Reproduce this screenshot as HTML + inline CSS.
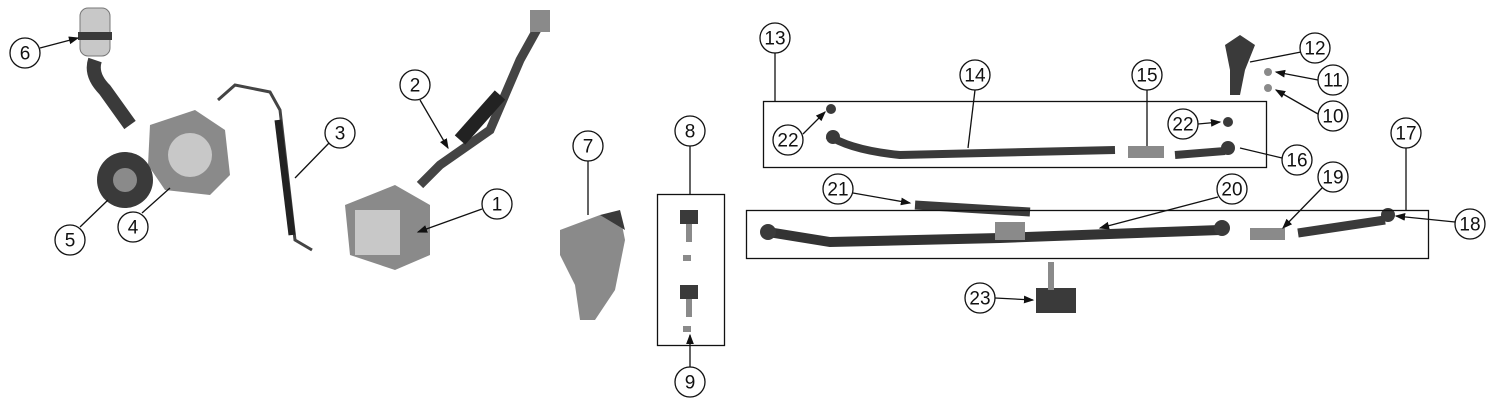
<!DOCTYPE html>
<html><head><meta charset="utf-8"><style>
html,body{margin:0;padding:0;background:#fff;}
svg{display:block;}
text{font-family:"Liberation Sans",sans-serif;font-size:19px;fill:#111;text-anchor:middle;dominant-baseline:central;}
.c{fill:#fff;stroke:#111;stroke-width:1.3;}
.l{stroke:#111;stroke-width:1.3;fill:none;}
.p{fill:#3a3a3a;}
.g{fill:#8a8a8a;}
.lg{fill:#c8c8c8;}
</style></head><body>
<svg width="1500" height="410" viewBox="0 0 1500 410">
<defs><marker id="a" markerWidth="8" markerHeight="8" refX="7" refY="4" orient="auto"><path d="M0,1 L8,4 L0,7z" fill="#111"/></marker></defs>

<!-- parts -->
<!-- reservoir -->
<rect x="80" y="8" width="30" height="48" rx="8" class="lg" stroke="#777"/>
<rect x="78" y="32" width="34" height="8" class="p"/>
<path d="M95,60 Q90,75 105,90 L130,125" stroke="#3a3a3a" stroke-width="14" fill="none"/>
<!-- pump -->
<path d="M150,125 L195,110 L225,130 L230,175 L210,195 L165,190 L148,165z" class="g"/>
<circle cx="190" cy="155" r="22" class="lg"/>
<circle cx="125" cy="180" r="28" class="p"/>
<circle cx="125" cy="180" r="12" class="g"/>
<!-- hose 3 -->
<path d="M218,100 L235,85 L270,92 L280,110 L295,240 L312,250" stroke="#444" stroke-width="3" fill="none"/>
<path d="M278,120 L292,235" stroke="#222" stroke-width="7"/>
<!-- steering shaft -->
<path d="M545,15 L520,60 L490,130 L440,165 L420,185" stroke="#444" stroke-width="9" fill="none"/>
<path d="M500,95 L460,140" stroke="#222" stroke-width="14"/>
<rect x="530" y="10" width="20" height="22" class="g"/>
<!-- gear box -->
<path d="M345,205 L395,185 L430,205 L430,255 L395,270 L350,255z" class="g"/>
<rect x="355" y="210" width="45" height="45" class="lg"/>
<!-- knuckle 7 -->
<path d="M560,230 L600,215 L620,215 L625,240 L615,290 L595,320 L580,320 L575,285 L560,255z" class="g"/>
<path d="M600,215 L620,210 L625,230" class="p"/>
<!-- ball joints -->
<rect x="680" y="210" width="18" height="14" class="p"/><rect x="686" y="224" width="6" height="18" class="g"/>
<rect x="680" y="285" width="18" height="14" class="p"/><rect x="686" y="299" width="6" height="18" class="g"/>
<rect x="683" y="255" width="8" height="6" class="g"/><rect x="683" y="326" width="8" height="6" class="g"/>
<!-- pitman arm 12 -->
<path d="M1225,45 L1240,35 L1255,45 L1245,70 L1240,95 L1230,95 L1230,70z" class="p"/>
<circle cx="1268" cy="72" r="4" class="g"/><circle cx="1268" cy="88" r="4" class="g"/>
<!-- tie rod 14 -->
<circle cx="831" cy="109" r="5" class="p"/>
<path d="M828,135 Q850,150 900,155 L1115,150" stroke="#3a3a3a" stroke-width="8" fill="none"/>
<circle cx="833" cy="137" r="7" class="p"/>
<rect x="1128" y="146" width="36" height="12" class="g"/>
<path d="M1175,155 L1225,151" stroke="#3a3a3a" stroke-width="8"/>
<circle cx="1228" cy="122" r="5" class="p"/>
<circle cx="1228" cy="148" r="7" class="p"/>
<!-- drag link 21 -->
<path d="M915,205 L1030,212" stroke="#3a3a3a" stroke-width="9"/>
<!-- 20 -->
<path d="M768,232 L830,242 L1000,238 L1220,230" stroke="#333" stroke-width="10" fill="none"/>
<circle cx="768" cy="232" r="8" class="p"/><circle cx="1222" cy="228" r="8" class="p"/>
<rect x="995" y="222" width="30" height="18" class="g"/>
<rect x="1250" y="228" width="35" height="12" class="g"/>
<path d="M1298,233 L1385,220" stroke="#3a3a3a" stroke-width="9"/>
<circle cx="1388" cy="215" r="7" class="p"/>
<!-- 23 -->
<rect x="1036" y="288" width="40" height="25" class="p"/><rect x="1048" y="262" width="6" height="28" class="g"/>

<!-- boxes -->
<rect x="763.5" y="101.5" width="503" height="66" class="l"/>
<rect x="746.5" y="210.5" width="682" height="48" class="l"/>
<rect x="657.5" y="194.5" width="67" height="151" class="l"/>

<!-- leaders -->
<line x1="40" y1="48" x2="78" y2="38" class="l" marker-end="url(#a)"/>
<line x1="420" y1="100" x2="448" y2="148" class="l" marker-end="url(#a)"/>
<line x1="330" y1="142" x2="295" y2="178" class="l"/>
<line x1="482" y1="209" x2="418" y2="232" class="l" marker-end="url(#a)"/>
<line x1="80" y1="227" x2="108" y2="200" class="l"/>
<line x1="142" y1="213" x2="170" y2="188" class="l"/>
<line x1="588" y1="161" x2="588" y2="215" class="l"/>
<line x1="690" y1="146" x2="690" y2="194" class="l"/>
<line x1="690" y1="367" x2="690" y2="335" class="l" marker-end="url(#a)"/>
<line x1="775" y1="53" x2="775" y2="101" class="l"/>
<line x1="975" y1="90" x2="968" y2="148" class="l"/>
<line x1="1147" y1="90" x2="1147" y2="146" class="l"/>
<line x1="1301" y1="52" x2="1250" y2="62" class="l"/>
<line x1="1318" y1="80" x2="1276" y2="72" class="l" marker-end="url(#a)"/>
<line x1="1318" y1="114" x2="1276" y2="90" class="l" marker-end="url(#a)"/>
<line x1="803" y1="134" x2="825" y2="112" class="l" marker-end="url(#a)"/>
<line x1="1198" y1="124" x2="1220" y2="122" class="l" marker-end="url(#a)"/>
<line x1="1282" y1="158" x2="1240" y2="148" class="l"/>
<line x1="1406" y1="148" x2="1406" y2="210" class="l"/>
<line x1="853" y1="193" x2="910" y2="203" class="l" marker-end="url(#a)"/>
<line x1="1218" y1="197" x2="1100" y2="228" class="l" marker-end="url(#a)"/>
<line x1="1322" y1="188" x2="1283" y2="228" class="l" marker-end="url(#a)"/>
<line x1="1455" y1="222" x2="1396" y2="216" class="l" marker-end="url(#a)"/>
<line x1="995" y1="298" x2="1033" y2="300" class="l" marker-end="url(#a)"/>

<!-- callouts -->
<g>
<circle cx="25" cy="53" r="15" class="c"/><text x="25" y="54">6</text>
<circle cx="415" cy="85" r="15" class="c"/><text x="415" y="86">2</text>
<circle cx="340" cy="133" r="15" class="c"/><text x="340" y="134">3</text>
<circle cx="497" cy="204" r="15" class="c"/><text x="497" y="205">1</text>
<circle cx="70" cy="240" r="15" class="c"/><text x="70" y="241">5</text>
<circle cx="133" cy="227" r="15" class="c"/><text x="133" y="228">4</text>
<circle cx="588" cy="146" r="15" class="c"/><text x="588" y="147">7</text>
<circle cx="690" cy="131" r="15" class="c"/><text x="690" y="132">8</text>
<circle cx="690" cy="382" r="15" class="c"/><text x="690" y="383">9</text>
<circle cx="775" cy="38" r="15" class="c"/><text x="775" y="39">13</text>
<circle cx="975" cy="75" r="15" class="c"/><text x="975" y="76">14</text>
<circle cx="1147" cy="75" r="15" class="c"/><text x="1147" y="76">15</text>
<circle cx="1315" cy="48" r="15" class="c"/><text x="1315" y="49">12</text>
<circle cx="1333" cy="80" r="15" class="c"/><text x="1333" y="81">11</text>
<circle cx="1333" cy="116" r="15" class="c"/><text x="1333" y="117">10</text>
<circle cx="788" cy="140" r="15" class="c"/><text x="788" y="141">22</text>
<circle cx="1183" cy="124" r="15" class="c"/><text x="1183" y="125">22</text>
<circle cx="1297" cy="160" r="15" class="c"/><text x="1297" y="161">16</text>
<circle cx="1406" cy="133" r="15" class="c"/><text x="1406" y="134">17</text>
<circle cx="838" cy="189" r="15" class="c"/><text x="838" y="190">21</text>
<circle cx="1232" cy="189" r="15" class="c"/><text x="1232" y="190">20</text>
<circle cx="1333" cy="177" r="15" class="c"/><text x="1333" y="178">19</text>
<circle cx="1470" cy="224" r="15" class="c"/><text x="1470" y="225">18</text>
<circle cx="980" cy="298" r="15" class="c"/><text x="980" y="299">23</text>
</g>
</svg>
</body></html>
